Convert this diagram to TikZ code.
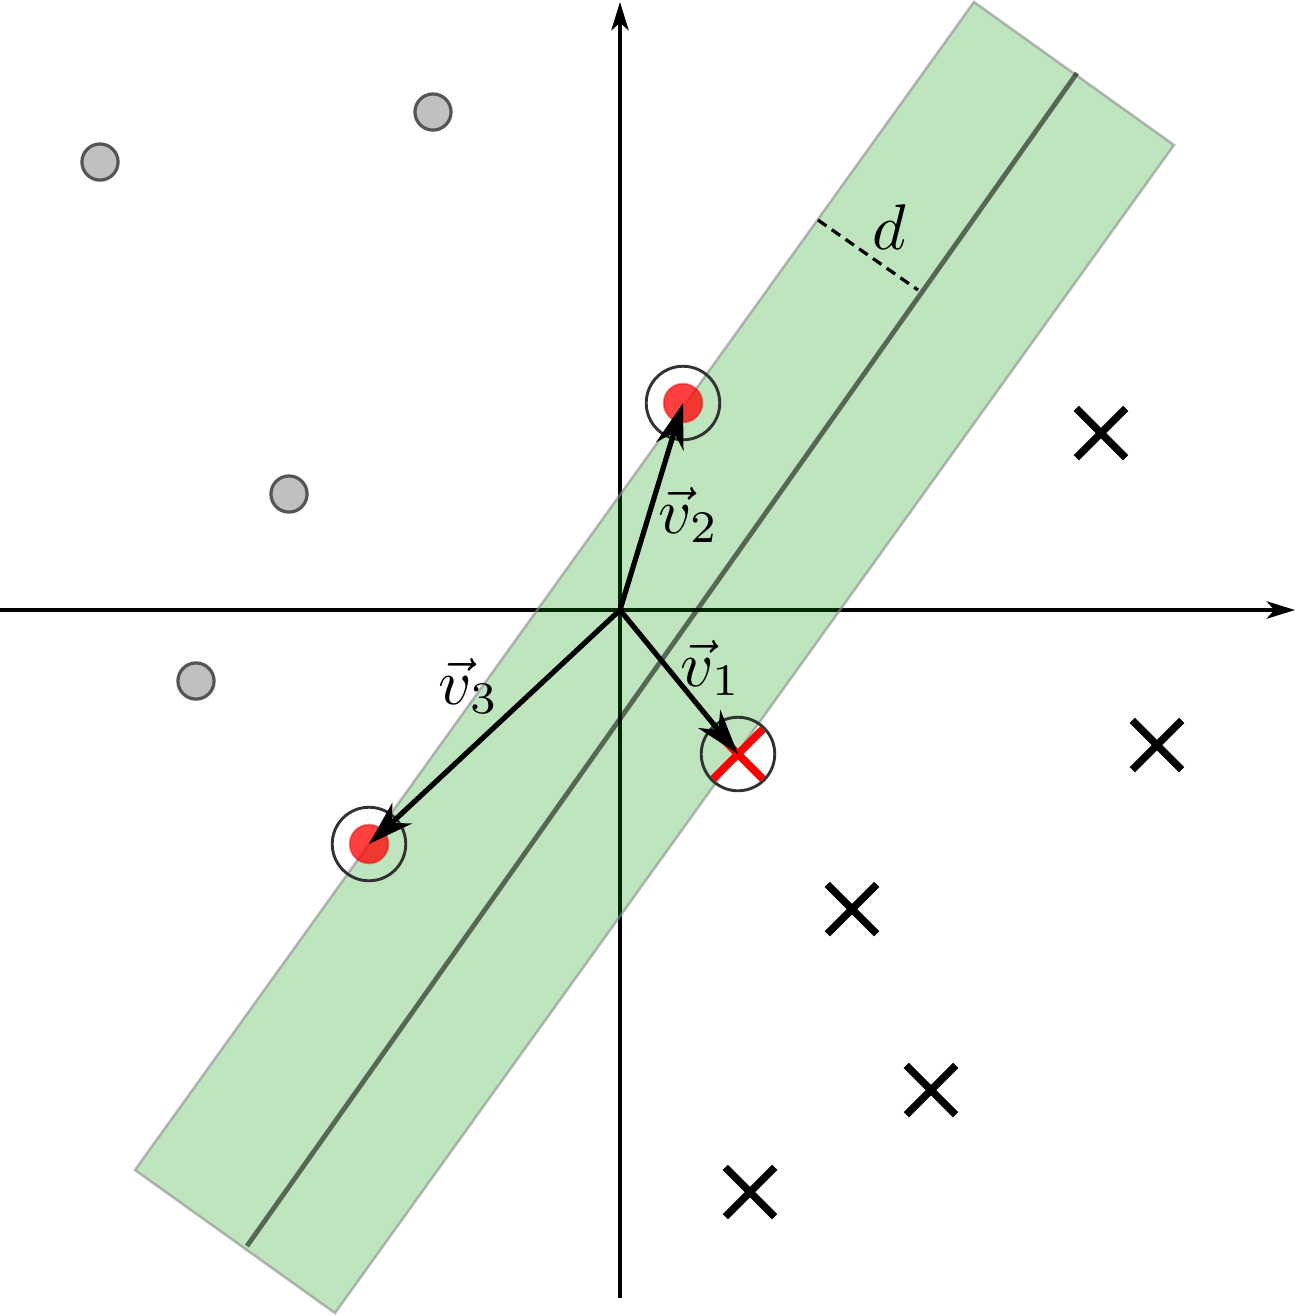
\documentclass[tikz,border=0pt]{standalone}
\usetikzlibrary{arrows.meta,shapes.misc}
\definecolor{bandgreen}{RGB}{0,153,0}
\definecolor{dotgray}{RGB}{192,192,192}
\definecolor{dotedge}{RGB}{85,85,85}
\definecolor{ringgray}{RGB}{50,50,50}
\begin{document}
\begin{tikzpicture}[x=0.155pt,y=-0.155pt,
  axisline/.style={line width=0.5pt,-{Stealth[length=4.4pt,width=2.7pt,inset=1.2pt]}},
  vecarrow/.style={line width=0.8pt,-{Stealth[length=7pt,width=4.4pt,inset=2.2pt]}},
  graydot/.style={circle,inner sep=0pt,minimum size=5.6pt,fill=dotgray,draw=dotedge,line width=0.5pt},
  reddot/.style={circle,inner sep=0pt,minimum size=6pt,fill=red,fill opacity=0.75,draw=red!85!black,draw opacity=0.4,line width=0.3pt},
  ring/.style={circle,inner sep=0pt,minimum size=11.4pt,draw=ringgray,line width=0.45pt},
  xmark/.style={cross out,draw=black,line width=1.15pt,minimum size=6.5pt,inner sep=0pt},
  redxmark/.style={cross out,draw=red,line width=1.2pt,minimum size=6.5pt,inner sep=0pt},
  lab/.style={inner sep=0pt}]
\useasboundingbox (0,0) rectangle (1296,1316);
% axes
\coordinate (O) at (620,610);
\coordinate (xl) at (0,610);
\coordinate (xr) at (1295,610);
\coordinate (yb) at (620,1298);
\coordinate (yt) at (620,2);
\draw[axisline] (xl) -- (xr);
\draw[axisline] (yb) -- (yt);
% band
\coordinate (b1) at (974,2);
\coordinate (b2) at (1174,145);
\coordinate (b3) at (335,1313);
\coordinate (b4) at (135,1170);
\fill[bandgreen,fill opacity=0.255] (b1) -- (b2) -- (b3) -- (b4) -- cycle;
\draw[black!45,draw opacity=0.6,line width=0.4pt] (b1) -- (b2) -- (b3) -- (b4) -- cycle;
% center line
\coordinate (c1) at (1077,73);
\coordinate (c2) at (247,1246);
\draw[black,draw opacity=0.55,line width=0.75pt] (c2) -- (c1);
% margin d
\coordinate (d1) at (818,220);
\coordinate (d2) at (918,290);
\draw[dash pattern=on 1.6pt off 1pt,line width=0.5pt] (d1) -- (d2);
\node[lab] (dlab) at (889,227) {$d$};
% gray dots
\node[graydot] (g1) at (100,162) {};
\node[graydot] (g2) at (433,112) {};
\node[graydot] (g3) at (289,494) {};
\node[graydot] (g4) at (196,681) {};
% crosses
\node[xmark] (x1) at (1101,433) {};
\node[xmark] (x2) at (1157,745) {};
\node[xmark] (x3) at (852,909) {};
\node[xmark] (x4) at (931,1090) {};
\node[xmark] (x5) at (750,1192) {};
% support vectors
\node[reddot] (p2) at (683,403) {};
\node[reddot] (p3) at (369,844) {};
\node[redxmark] (p1) at (738,754) {};
\node[ring] (r1) at (738,754) {};
\node[ring] (r2) at (683,403) {};
\node[ring] (r3) at (369,844) {};
% vectors
\draw[vecarrow] (O) -- (p1.center);
\draw[vecarrow] (O) -- (p2.center);
\draw[vecarrow] (O) -- (p3.center);
\node[lab] (v1lab) at (711,668) {$\vec{v}_1$};
\node[lab] (v2lab) at (689,515) {$\vec{v}_2$};
\node[lab] (v3lab) at (469,686) {$\vec{v}_3$};
\end{tikzpicture}
\end{document}
